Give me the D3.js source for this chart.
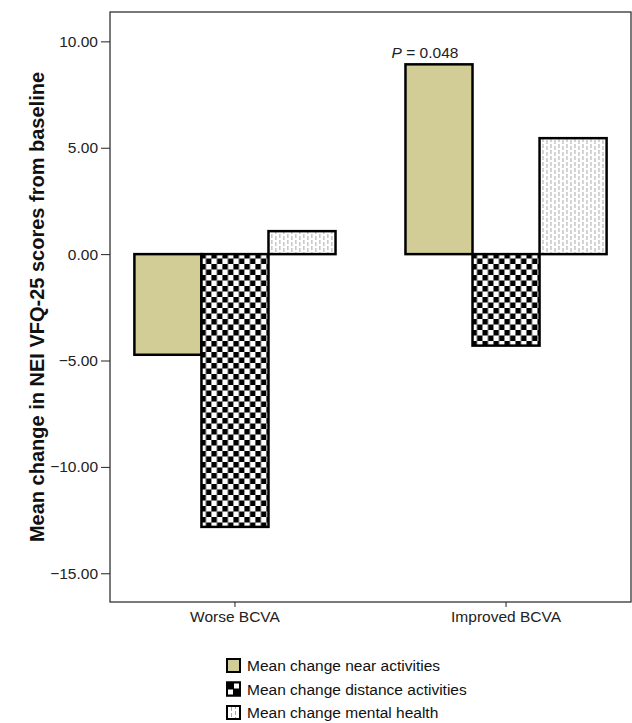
<!DOCTYPE html>
<html>
<head>
<meta charset="utf-8">
<script src="https://cdn.jsdelivr.net/npm/d3@7"></script>
<style>
  body { margin: 0; background: #fff; }
  text { font-family: "Liberation Sans", Arial, sans-serif; }
</style>
</head>
<body>
<div id="chart"></div>
<script>
const groups = ["Worse BCVA", "Improved BCVA"];
const seriesNames = ["Mean change near activities", "Mean change distance activities", "Mean change mental health"];
const nearValues = [-4.73, 8.92];
const distanceValues = [-12.82, -4.3];
const mentalValues = [1.08, 5.45];
const yTicks = [10, 5, 0, -5, -10, -15];
const pLabel = { group: "Improved BCVA", text: " = 0.048" };

const width = 632, height = 723;
const plot = { left: 110, right: 631, top: 12, bottom: 602 };
const fontSize = 15.5;

const svg = d3.select("#chart").append("svg")
    .attr("width", width)
    .attr("height", height);

// patterns
const defs = svg.append("defs");
const checker = defs.append("pattern")
    .attr("id", "checker")
    .attr("patternUnits", "userSpaceOnUse")
    .attr("width", 11).attr("height", 11);
checker.append("rect").attr("width", 11).attr("height", 11).attr("fill", "#fff");
checker.append("rect").attr("x", 0).attr("y", 0).attr("width", 5.5).attr("height", 5.5).attr("fill", "#000");
checker.append("rect").attr("x", 5.5).attr("y", 5.5).attr("width", 5.5).attr("height", 5.5).attr("fill", "#000");

const dashes = defs.append("pattern")
    .attr("id", "dashes")
    .attr("patternUnits", "userSpaceOnUse")
    .attr("width", 8).attr("height", 6);
dashes.append("rect").attr("width", 8).attr("height", 6).attr("fill", "#fff");
dashes.append("line").attr("x1", 1.5).attr("x2", 1.5).attr("y1", 0).attr("y2", 4)
    .attr("stroke", "#a8a8a8").attr("stroke-width", 1);
dashes.append("line").attr("x1", 5.5).attr("x2", 5.5).attr("y1", 2).attr("y2", 6)
    .attr("stroke", "#a8a8a8").attr("stroke-width", 1);

const fills = ["#d2cd96", "url(#checker)", "url(#dashes)"];

const y = d3.scaleLinear().domain([-16.35, 11.38]).range([plot.bottom, plot.top]);
const x0 = d3.scaleBand().domain(groups).range([plot.left, plot.right])
    .paddingInner(0.258).paddingOuter(0.09);
const x1 = d3.scaleBand().domain(seriesNames).range([0, x0.bandwidth()]);

const rows = groups.map((g, i) => ({
    group: g,
    values: [nearValues[i], distanceValues[i], mentalValues[i]]
}));

// frame
svg.append("rect")
    .attr("x", plot.left).attr("y", plot.top)
    .attr("width", plot.right - plot.left).attr("height", plot.bottom - plot.top)
    .attr("fill", "none").attr("stroke", "#222").attr("stroke-width", 1.2);

// bars
const groupG = svg.selectAll(".grp")
    .data(rows)
    .enter().append("g")
    .attr("class", "grp")
    .attr("transform", d => `translate(${x0(d.group)},0)`);

groupG.selectAll("rect")
    .data(d => d.values.map((v, j) => ({ name: seriesNames[j], value: v, j: j })))
    .enter().append("rect")
    .attr("x", d => x1(d.name))
    .attr("width", x1.bandwidth())
    .attr("y", d => y(Math.max(0, d.value)))
    .attr("height", d => Math.abs(y(d.value) - y(0)))
    .attr("fill", d => fills[d.j])
    .attr("stroke", "#000")
    .attr("stroke-width", 2.5);

// y axis
const leftAxis = d3.axisLeft(y)
    .tickValues(yTicks)
    .tickSize(9)
    .tickPadding(3)
    .tickFormat(d => (d < 0 ? "\u2212" : "") + Math.abs(d).toFixed(2));

const yAxisG = svg.append("g")
    .attr("transform", `translate(${plot.left},0)`)
    .call(leftAxis);
yAxisG.select(".domain").remove();
yAxisG.selectAll("text").attr("font-size", fontSize).attr("fill", "#222")
    .style("font-family", "'Liberation Sans', Arial, sans-serif");
yAxisG.selectAll("line").attr("stroke", "#222");

// x axis
const bottomAxis = d3.axisBottom(x0).tickSize(5).tickPadding(4);
const xAxisG = svg.append("g")
    .attr("transform", `translate(0,${plot.bottom})`)
    .call(bottomAxis);
xAxisG.select(".domain").remove();
xAxisG.selectAll("text").attr("font-size", fontSize).attr("fill", "#222")
    .style("font-family", "'Liberation Sans', Arial, sans-serif");
xAxisG.selectAll("line").attr("stroke", "#222");

// y label
svg.append("text")
    .attr("transform", `translate(44,${(plot.top + plot.bottom) / 2}) rotate(-90)`)
    .attr("text-anchor", "middle")
    .attr("font-size", 20)
    .attr("font-weight", "bold")
    .attr("fill", "#111")
    .text("Mean change in NEI VFQ-25 scores from baseline");

// p-value label
const gi = groups.indexOf(pLabel.group);
const pText = svg.append("text")
    .attr("x", x0(pLabel.group) + x1(seriesNames[0]) + x1.bandwidth() / 2 - 14)
    .attr("y", y(nearValues[gi]) - 6)
    .attr("text-anchor", "middle")
    .attr("font-size", fontSize)
    .attr("fill", "#222");
pText.append("tspan").attr("font-style", "italic").text("P");
pText.append("tspan").text(pLabel.text);

// legend
const legend = svg.append("g")
    .attr("transform", "translate(226,658)");
const legRows = legend.selectAll("g")
    .data(seriesNames)
    .enter().append("g")
    .attr("transform", (d, i) => `translate(0,${i * 23.5})`);
legRows.append("rect")
    .attr("x", 1).attr("y", 1)
    .attr("width", 13).attr("height", 13)
    .attr("fill", (d, i) => i === 0 ? fills[0] : "#fff")
    .attr("stroke", "#000").attr("stroke-width", 2);
// small pattern hints inside legend keys
legRows.filter((d, i) => i === 1).each(function () {
    const g = d3.select(this);
    g.append("rect").attr("x", 0).attr("y", 0).attr("width", 15).attr("height", 15).attr("fill", "#000");
    g.append("rect").attr("x", 8).attr("y", 2).attr("width", 5).attr("height", 5).attr("fill", "#fff");
    g.append("rect").attr("x", 2).attr("y", 8).attr("width", 5).attr("height", 5).attr("fill", "#fff");
});
legRows.filter((d, i) => i === 2).each(function () {
    const g = d3.select(this);
    g.append("rect").attr("x", 0).attr("y", 0).attr("width", 15).attr("height", 15).attr("fill", "#000");
    g.append("rect").attr("x", 2).attr("y", 2).attr("width", 11).attr("height", 11).attr("fill", "url(#dashes)");
});
legRows.append("text")
    .attr("x", 21).attr("y", 13)
    .attr("font-size", fontSize)
    .attr("fill", "#111")
    .text(d => d);
</script>
</body>
</html>
